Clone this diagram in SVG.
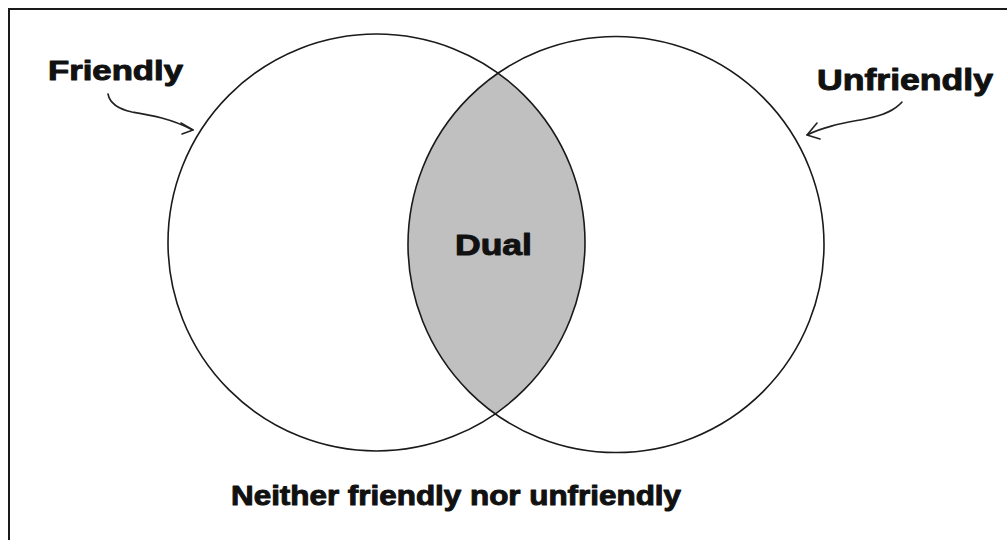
<svg xmlns="http://www.w3.org/2000/svg" width="1007" height="540" viewBox="0 0 1007 540">
  <style>
    .set { fill: none; stroke: #1a1a1a; stroke-width: 1.6; }
    .lbl { font-family: "Liberation Sans", Arial, sans-serif; font-weight: bold; fill: #111; stroke: #111; stroke-width: 1; stroke-linejoin: round; }
    .arrow { fill: none; stroke: #222; stroke-width: 1.6; stroke-linecap: round; stroke-linejoin: round; }
  </style>
  <defs>
    <clipPath id="clipLeft">
      <circle cx="376.5" cy="242.5" r="208.5"/>
    </clipPath>
  </defs>
  <rect x="0" y="0" width="1007" height="540" fill="#ffffff"/>
  <path d="M9 540 V9 H1007" fill="none" stroke="#1a1a1a" stroke-width="2"/>

  <g id="dual">
    <circle cx="616" cy="244.5" r="208" fill="#c0c0c0" clip-path="url(#clipLeft)"/>
    <text class="lbl" x="455" y="255" font-size="30" textLength="77" lengthAdjust="spacingAndGlyphs">Dual</text>
  </g>

  <g id="friendly">
    <circle class="set" cx="376.5" cy="242.5" r="208.5"/>
    <text class="lbl" x="48" y="80" font-size="28" textLength="135" lengthAdjust="spacingAndGlyphs">Friendly</text>
  </g>

  <g id="unfriendly">
    <circle class="set" cx="616" cy="244.5" r="208"/>
    <text class="lbl" x="817" y="90" font-size="30" textLength="176" lengthAdjust="spacingAndGlyphs">Unfriendly</text>
  </g>

  <g id="neither">
    <text class="lbl" x="231" y="505" font-size="28" textLength="450" lengthAdjust="spacingAndGlyphs">Neither friendly nor unfriendly</text>
  </g>

  <g id="connectors">
    <path class="arrow" d="M108 94 C110 104 118 109 132 112 C150 115 170 118 193 130"/>
    <path class="arrow" d="M181 123 L193 130 L182 134"/>
    <path class="arrow" d="M902 102 C895 110 885 115 865 119 C845 123 825 126 807 135"/>
    <path class="arrow" d="M817 123 L807 135 L820 139"/>
  </g>
</svg>
